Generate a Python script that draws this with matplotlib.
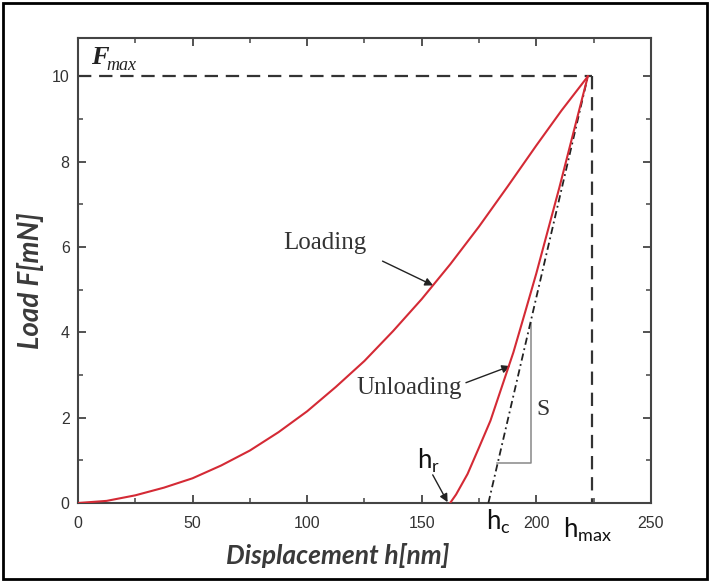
import matplotlib
matplotlib.use("Agg")
import matplotlib.pyplot as plt
from matplotlib.patches import Rectangle
from matplotlib.ticker import MultipleLocator

plt.rcParams["mathtext.fontset"] = "custom"
plt.rcParams["mathtext.rm"] = "Lato"

# ---- data (h in nm, F in mN) ----
load_h = [0, 12.5, 25, 37.5, 50, 62.5, 75, 87.5, 100, 112.5, 125, 137.5, 150, 162.5, 175,
          187.5, 200, 211, 222.5]
load_F = [0, 0.05, 0.18, 0.36, 0.58, 0.88, 1.23, 1.66, 2.15, 2.72, 3.33, 4.03, 4.78, 5.6, 6.48,
          7.42, 8.38, 9.2, 10.0]
unload_h = [162.4, 165, 170, 175, 180, 185, 190, 195, 200, 205, 210, 215, 220, 222.5]
unload_F = [0, 0.2, 0.68, 1.3, 1.93, 2.73, 3.53, 4.45, 5.38, 6.38, 7.38, 8.43, 9.48, 10.0]
F_max = 10.0
h_max = 224.5
h_r = 162.4
h_c = 179.1
tangent_h = [h_c, 222.5]
tangent_F = [0, F_max]
S_h = [183.0, 197.8, 197.8]
S_F = [0.94, 0.94, 4.22]

RED = "#d42a35"
DARK = "#333333"

fig = plt.figure(figsize=(7.09, 5.83), dpi=100)
ax = fig.add_axes([0.110, 0.1372, 0.808, 0.7976])

ax.plot(load_h, load_F, color=RED, lw=1.5, zorder=4)
ax.plot(unload_h, unload_F, color=RED, lw=1.5, zorder=4)
ax.plot(tangent_h, tangent_F, color="#222", lw=1.3, dashes=(4, 2, 1, 2), zorder=3)
ax.plot([0, h_max], [F_max, F_max], color=DARK, lw=1.6, dashes=(6, 3.5), zorder=2)
ax.plot([h_max, h_max], [F_max, 0], color=DARK, lw=1.6, dashes=(6, 3.5), zorder=2)
ax.plot(S_h, S_F, color="#888", lw=1.1, zorder=2)

serif = "Liberation Serif"
ax.text(5.5, 10.28, "F", family=serif, fontsize=19, fontweight="bold", style="italic", color="#222")
ax.text(12.5, 10.16, "max", family=serif, fontsize=13, style="italic", color="#222")
ax.text(107.9, 6.09, "Loading", family=serif, fontsize=18, ha="center", va="center", color="#333")
ax.text(144.5, 2.69, "Unloading", family=serif, fontsize=18, ha="center", va="center", color="#333")
ax.text(202.9, 2.2, "S", family=serif, fontsize=17, ha="center", va="center", color="#333")

arw = dict(arrowstyle="-|>", color="#222", lw=1.0, mutation_scale=12, shrinkA=0, shrinkB=0)
ax.annotate("", xy=(155, 5.1), xytext=(132.9, 5.67), arrowprops=arw)
ax.annotate("", xy=(188.6, 3.21), xytext=(169.3, 2.82), arrowprops=arw)
ax.annotate("", xy=(161.3, 0.02), xytext=(154.8, 0.66), arrowprops=arw)

sans = "Lato"
ax.text(153, 0.98, r"h$_\mathregular{r}$", family=sans, fontsize=18.5, ha="center", va="center", color="#111")
ax.text(183.6, -0.45, r"h$_\mathregular{c}$", family=sans, fontsize=18.5, ha="center", va="center",
        color="#111", clip_on=False)
ax.text(222.6, -0.63, r"h$_\mathregular{max}$", family=sans, fontsize=18.5, ha="center", va="center",
        color="#111", clip_on=False)

ax.set_xlim(0, 250)
ax.set_ylim(0, 10.9)
ax.xaxis.set_major_locator(MultipleLocator(50))
ax.xaxis.set_minor_locator(MultipleLocator(25))
ax.yaxis.set_major_locator(MultipleLocator(2))
ax.yaxis.set_minor_locator(MultipleLocator(1))
ax.tick_params(which="both", direction="in", top=True, right=True, colors="#444",
               labelcolor="#333", labelsize=11.5)
ax.tick_params(which="major", length=6, width=1.3)
ax.tick_params(which="minor", length=3.5, width=1.1)
ax.tick_params(axis="x", pad=9)
ax.tick_params(axis="y", pad=6)
for lab in ax.get_xticklabels() + ax.get_yticklabels():
    lab.set_family("Liberation Sans")
for sp in ax.spines.values():
    sp.set_color("#444")
    sp.set_linewidth(1.5)

fig.text(338 / 709, 1 - 556 / 583, "Displacement h[nm]", family=sans, fontsize=19,
         fontweight="bold", style="italic", color="#3a3a3a", ha="center", va="center")
fig.text(31 / 709, 1 - 281 / 583, "Load F[mN]", family=sans, fontsize=20, fontweight="bold",
         style="italic", color="#3a3a3a", ha="center", va="center", rotation=90)

fig.patches.append(Rectangle((3 / 709, 4 / 583), 704 / 709, 576 / 583, transform=fig.transFigure,
                             fill=False, edgecolor="black", lw=2.0))

fig.savefig("out.png", dpi=100, facecolor="white")
